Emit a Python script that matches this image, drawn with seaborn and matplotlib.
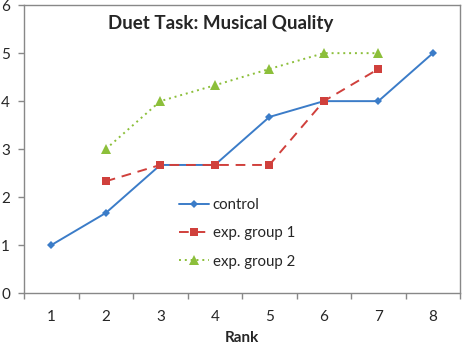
import matplotlib
matplotlib.use("Agg")
import matplotlib.pyplot as plt
import seaborn as sns
import pandas as pd
import numpy as np
from matplotlib.ticker import FixedLocator

ranks_control = [1, 2, 3, 4, 5, 6, 7, 8]
control = [1.0, 1.67, 2.67, 2.67, 3.67, 4.0, 4.0, 5.0]
ranks_exp = [2, 3, 4, 5, 6, 7]
exp1 = [2.33, 2.67, 2.67, 2.67, 4.0, 4.67]
exp2 = [3.0, 4.0, 4.33, 4.67, 5.0, 5.0]
series_names = ["control", "exp. group 1", "exp. group 2"]
x_ticks = [1, 2, 3, 4, 5, 6, 7, 8]
y_ticks = [0, 1, 2, 3, 4, 5, 6]

df = pd.concat([
    pd.DataFrame({"Rank": ranks_control, "Score": control, "Group": series_names[0]}),
    pd.DataFrame({"Rank": ranks_exp, "Score": exp1, "Group": series_names[1]}),
    pd.DataFrame({"Rank": ranks_exp, "Score": exp2, "Group": series_names[2]}),
])

sns.set_style("white")
plt.rcParams["font.family"] = ["Lato", "DejaVu Sans"]

fig = plt.figure(figsize=(4.62, 3.44), dpi=100)
ax = fig.add_axes([0.052, 0.148, 0.944, 0.837])

colors = {"control": "#3b7cc8", "exp. group 1": "#d0403c", "exp. group 2": "#8cbf3a"}
styles = {"control": "-", "exp. group 1": (0, (5, 3.5)), "exp. group 2": (0, (1, 2))}
markers = {"control": "D", "exp. group 1": "s", "exp. group 2": "^"}
msizes = {"control": 4, "exp. group 1": 6, "exp. group 2": 7.5}

for name in series_names:
    sub = df[df["Group"] == name]
    sns.lineplot(data=sub, x="Rank", y="Score", ax=ax, color=colors[name],
                 linestyle=styles[name], marker=markers[name], markersize=msizes[name],
                 markeredgewidth=0, linewidth=1.4, label=name)

ax.set_xlim(0.5, 8.5)
ax.set_ylim(0, 6)
ax.xaxis.set_major_locator(FixedLocator(x_ticks))
ax.set_xticklabels([str(t) for t in x_ticks], fontsize=11)
ax.xaxis.set_minor_locator(FixedLocator(np.arange(0.5, 9.0, 1.0)))
ax.tick_params(axis="x", which="major", length=0, pad=12)
ax.tick_params(axis="x", which="minor", length=4, width=1, color="#888888", direction="out", bottom=True)
ax.set_yticks(y_ticks)
ax.set_yticklabels([str(t) for t in y_ticks], fontsize=11)
ax.tick_params(axis="y", which="major", length=4, width=1, color="#888888", direction="out", left=True, pad=6)

for s in ax.spines.values():
    s.set_color("#888888")
    s.set_linewidth(1)

ax.set_xlabel("Rank", fontsize=11, fontweight="bold", labelpad=5)
ax.set_ylabel("")
ax.text(0.45, 0.935, "Duet Task: Musical Quality", transform=ax.transAxes,
        ha="center", va="center", fontsize=13.5, fontweight="bold")

leg = ax.legend(loc="upper left", bbox_to_anchor=(0.355, 0.33), frameon=False,
                fontsize=10.8, handlelength=2.0, labelspacing=0.95, handletextpad=0.25,
                borderaxespad=0, borderpad=0)

fig.savefig("out.png", dpi=100)
